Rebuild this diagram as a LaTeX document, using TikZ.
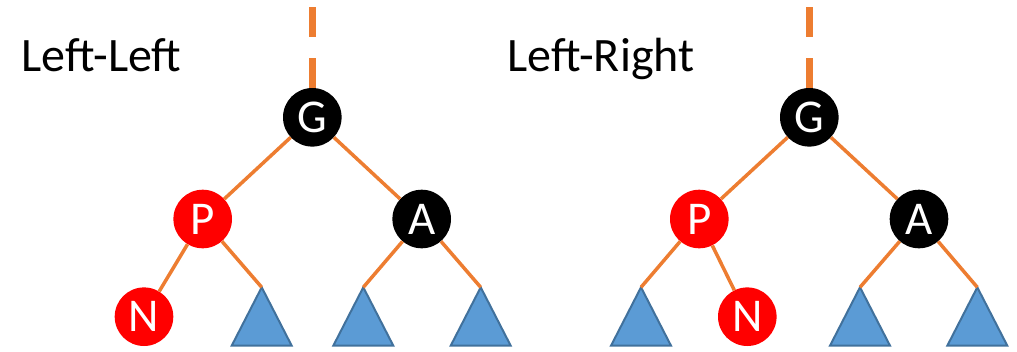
\documentclass[tikz,border=0pt]{standalone}
\usepackage{fontspec}
\setmainfont{Carlito}
\definecolor{edgeor}{HTML}{ED7D31}
\definecolor{trifill}{HTML}{5B9BD5}
\definecolor{triline}{HTML}{41719C}
\definecolor{rbred}{HTML}{FF0000}
\tikzset{
  rbnode/.style={circle, minimum size=58.6pt, inner sep=0pt, text=white,
    font=\fontsize{47}{56}\selectfont},
  blacknode/.style={rbnode, fill=black},
  rednode/.style={rbnode, fill=rbred},
  treeedge/.style={draw=edgeor, line width=3.5pt},
  rootedge/.style={draw=edgeor, line width=6.5pt, dash pattern=on 30pt off 21pt},
  subtree/.style={fill=trifill, draw=triline, line width=2pt, line join=miter},
  caption/.style={anchor=base west, inner sep=0pt, font=\fontsize{48}{58}\selectfont}
}
\begin{document}
\begin{tikzpicture}[x=1pt,y=-1pt]
\useasboundingbox (0,0) rectangle (1017,351);
% ---------- Left-Left ----------
\node[caption] (capLL) at (21.5,71) {Left-Left};
\coordinate (topL) at (312.3,7);
\node[blacknode] (GL) at (312.3,117.3) {G};
\node[rednode] (PL) at (202.7,219) {P};
\node[blacknode] (AL) at (421.7,219) {A};
\node[rednode] (NL) at (144,316.7) {N};
\coordinate (T1L) at (261.7,287.3);
\coordinate (T2L) at (363.3,287.3);
\coordinate (T3L) at (480.7,287.3);
\foreach \t in {T1L,T2L,T3L}{
  \draw[subtree] (\t) -- ++(30,58.4) -- ++(-60,0) -- cycle;
}
\draw[rootedge] (topL) -- (GL.north);
\draw[treeedge] (GL) -- (PL);
\draw[treeedge] (GL) -- (AL);
\draw[treeedge] (PL) -- (NL);
\draw[treeedge] (PL) -- (T1L);
\draw[treeedge] (AL) -- (T2L);
\draw[treeedge] (AL) -- (T3L);
% ---------- Left-Right ----------
\node[caption] (capLR) at (507.3,71) {Left-Right};
\coordinate (topR) at (809.3,7);
\node[blacknode] (GR) at (809.3,117.3) {G};
\node[rednode] (PR) at (699.3,219) {P};
\node[blacknode] (AR) at (919,219) {A};
\node[rednode] (NR) at (747.3,316.7) {N};
\coordinate (T1R) at (641,287.3);
\coordinate (T2R) at (860,287.3);
\coordinate (T3R) at (977.3,287.3);
\foreach \t in {T1R,T2R,T3R}{
  \draw[subtree] (\t) -- ++(30,58.4) -- ++(-60,0) -- cycle;
}
\draw[rootedge] (topR) -- (GR.north);
\draw[treeedge] (GR) -- (PR);
\draw[treeedge] (GR) -- (AR);
\draw[treeedge] (PR) -- (T1R);
\draw[treeedge] (PR) -- (NR);
\draw[treeedge] (AR) -- (T2R);
\draw[treeedge] (AR) -- (T3R);
\end{tikzpicture}
\end{document}
